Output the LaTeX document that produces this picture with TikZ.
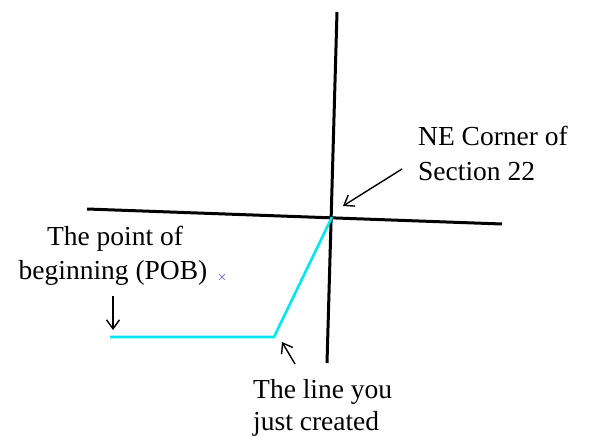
\documentclass[tikz,border=0pt]{standalone}
\usepackage{fontspec}
\setmainfont{Liberation Serif}
\usetikzlibrary{arrows.meta}
\begin{document}
\begin{tikzpicture}[x=1pt,y=-1pt,
  road/.style={line width=3pt,black},
  newline/.style={line width=2.6pt,color={rgb,255:red,0;green,230;blue,240}},
  pointer/.style={line width=1.4pt,-{Straight Barb[length=9pt,width=13pt,line width=1.4pt]}},
  mark x/.style={line width=0.9pt,color={rgb,255:red,130;green,130;blue,215}},
  lbl/.style={font=\fontsize{27.5}{34}\selectfont,inner sep=0pt,align=left}]
\useasboundingbox (0,0) rectangle (591,436);
\coordinate (vt) at (337,12);
\coordinate (vb) at (327,363);
\coordinate (hl) at (87,209);
\coordinate (hr) at (502,224);
\coordinate (ne) at (332,217);
\coordinate (pob) at (110,337);
\coordinate (bend) at (274,337);
\draw[road] (vt) -- (vb);
\draw[road] (hl) -- (hr);
\draw[newline] (pob) -- (bend) -- (ne);
\node[lbl,anchor=base west] (t1) at (418,145) {NE Corner of};
\node[lbl,anchor=base west] (t2) at (418,180) {Section 22};
\node[lbl,anchor=base] (p1) at (115,245) {The point of};
\node[lbl,anchor=base] (p2) at (113,279) {beginning (POB)};
\node[lbl,anchor=base west] (l1) at (253,398) {The line you};
\node[lbl,anchor=base west] (l2) at (253,430) {just created};
\coordinate (x) at (222,277);
\draw[mark x] ([shift={(-2.8,-2.8)}]x) -- ([shift={(2.8,2.8)}]x);
\draw[mark x] ([shift={(-2.8,2.8)}]x) -- ([shift={(2.8,-2.8)}]x);
\coordinate (a1s) at (402,169);
\coordinate (a1e) at (343,206);
\coordinate (a2s) at (113,296);
\coordinate (a2e) at (113,330);
\coordinate (a3s) at (295,364);
\coordinate (a3e) at (282,342);
\draw[pointer] (a1s) -- (a1e);
\draw[pointer] (a2s) -- (a2e);
\draw[pointer] (a3s) -- (a3e);
\end{tikzpicture}
\end{document}
